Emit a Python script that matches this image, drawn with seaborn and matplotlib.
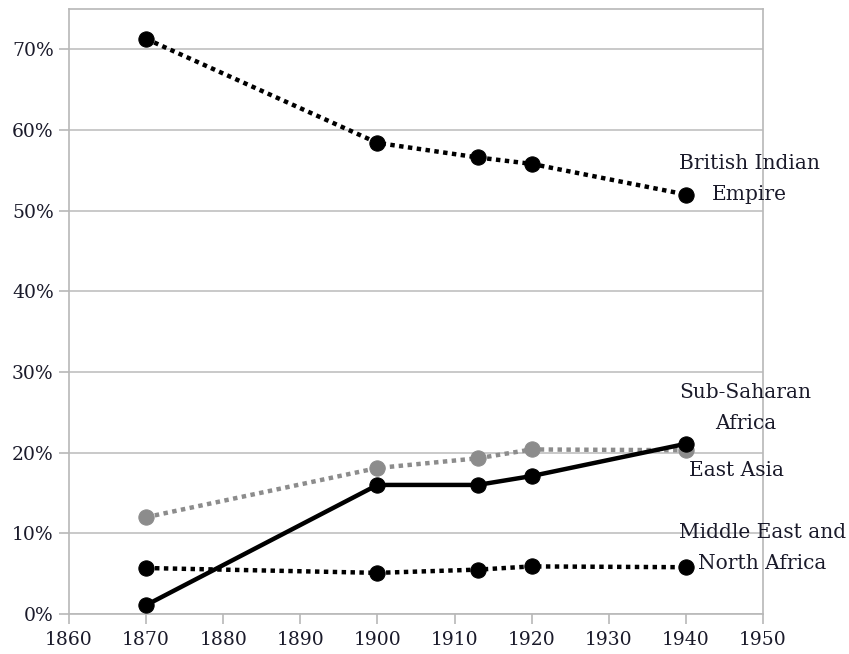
import matplotlib
matplotlib.use("Agg")
import matplotlib.pyplot as plt
import seaborn as sns
import pandas as pd
from matplotlib.ticker import FuncFormatter

years = [1870, 1900, 1913, 1920, 1940]
british_india = [71.3, 58.4, 56.6, 55.8, 52.0]
east_asia = [12.0, 18.1, 19.3, 20.4, 20.3]
sub_saharan = [1.1, 16.0, 16.0, 17.1, 21.1]
mena = [5.7, 5.1, 5.5, 5.9, 5.8]

sns.set_theme(style="white")
plt.rcParams["font.family"] = ["DejaVu Serif"]

fig = plt.figure(figsize=(8.49, 6.54), dpi=100)
ax = fig.add_axes([69 / 849, 40 / 654, (763 - 69) / 849, (614 - 9) / 654])

dot = (0, (1, 1))
series = [
    ("British Indian Empire", british_india, "black", dot, 3),
    ("East Asia", east_asia, "#8c8c8c", dot, 2),
    ("Middle East and North Africa", mena, "black", dot, 3),
    ("Sub-Saharan Africa", sub_saharan, "black", "-", 4),
]
for name, vals, color, ls, z in series:
    df = pd.DataFrame({"year": years, "share": vals})
    sns.lineplot(data=df, x="year", y="share", ax=ax, color=color,
                 linestyle=ls, linewidth=3.2, marker="o", markersize=11,
                 markeredgecolor=color, zorder=z)

ax.set_xlim(1860, 1950)
ax.set_ylim(0, 75)
ax.set_xticks(range(1860, 1951, 10))
ax.set_yticks(range(0, 71, 10))
ax.yaxis.set_major_formatter(FuncFormatter(lambda v, p: f"{v:.0f}%"))
ax.set_xlabel("")
ax.set_ylabel("")
ax.grid(axis="y", color="#c0c0c0", linewidth=1.2)
ax.grid(axis="x", visible=False)
for s in ax.spines.values():
    s.set_color("#b8b8b8")
    s.set_linewidth(1.2)
ax.tick_params(axis="both", which="major", length=7, width=1.2, color="#b8b8b8",
               labelsize=13.5, labelcolor="#1a1a2a", direction="out", bottom=True, left=True)
ax.tick_params(axis="x", pad=5)
ax.tick_params(axis="y", pad=4)

labels = [
    ("British Indian\nEmpire", 1948.2, 53.9),
    ("Sub-Saharan\nAfrica", 1947.7, 25.5),
    ("East Asia", 1946.5, 17.85),
    ("Middle East and\nNorth Africa", 1949.9, 8.2),
]
for txt, x, y in labels:
    ax.text(x, y, txt, ha="center", va="center", fontsize=14.5, color="#1a1a2a",
            linespacing=1.8, clip_on=False)

fig.savefig("out.png", dpi=100)
